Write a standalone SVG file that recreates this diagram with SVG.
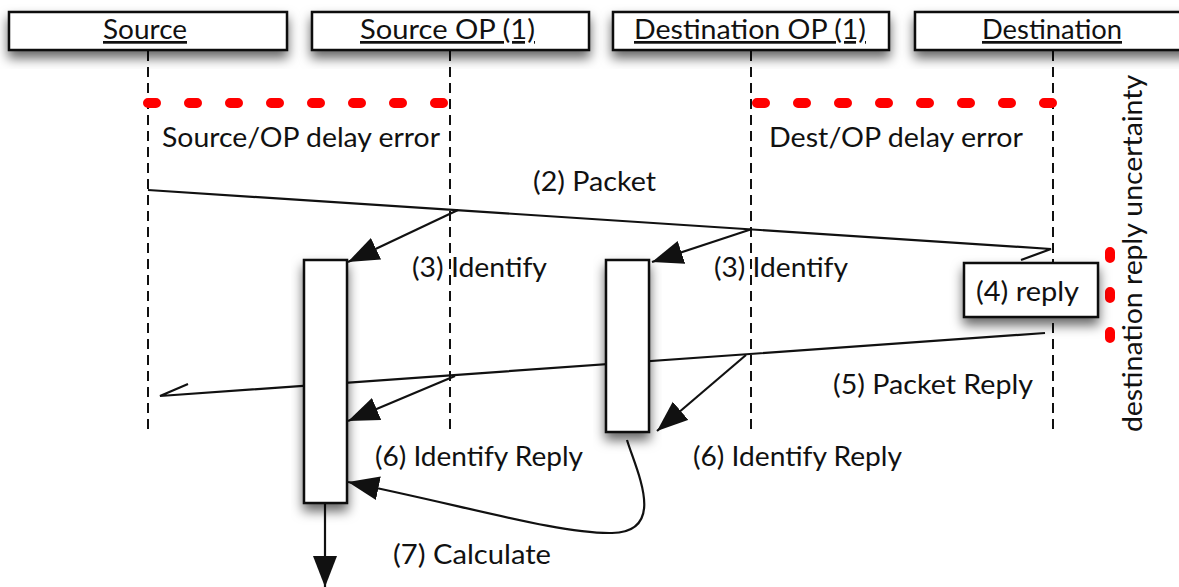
<svg xmlns="http://www.w3.org/2000/svg" width="1179" height="587" viewBox="0 0 1179 587">
<style>
text{font-family:Lato,"Open Sans","Liberation Sans",sans-serif;font-size:27px;fill:#111}
.hdr{text-decoration:underline}
.box{fill:#fff;stroke:#111;stroke-width:2.5}
.life{stroke:#111;stroke-width:2;stroke-dasharray:10 6;fill:none}
.red{stroke:#f00;stroke-width:10;stroke-linecap:round;fill:none}
.ln{stroke:#111;stroke-width:2.2;fill:none}
.arr{stroke:#111;stroke-width:2.2;fill:none;marker-end:url(#ah)}
</style>
<defs>
<filter id="sh" x="-30%" y="-30%" width="160%" height="180%">
<feDropShadow dx="0" dy="7" stdDeviation="6" flood-color="#000" flood-opacity="0.6"/>
</filter>
<marker id="ah" markerUnits="userSpaceOnUse" markerWidth="34" markerHeight="26" refX="31" refY="12" orient="auto">
<path d="M0,0 L31,12 L0,24 Z" fill="#111"/>
</marker>
</defs>
<g id="lifelines">
<line class="life" x1="148" y1="51" x2="148" y2="430"/>
<line class="life" x1="450" y1="51" x2="450" y2="430"/>
<line class="life" x1="751" y1="51" x2="751" y2="432"/>
<line class="life" x1="1053" y1="51" x2="1053" y2="432"/>
</g>
<g id="node-source"><rect class="box" x="9" y="12" width="278" height="38" filter="url(#sh)"/><text class="hdr" x="103" y="39" textLength="84" lengthAdjust="spacingAndGlyphs">Source</text></g>
<g id="node-source-op"><rect class="box" x="312" y="12" width="277" height="38" filter="url(#sh)"/><text class="hdr" x="360" y="39" textLength="175" lengthAdjust="spacingAndGlyphs">Source OP (1)</text></g>
<g id="node-dest-op"><rect class="box" x="613" y="12" width="276" height="38" filter="url(#sh)"/><text class="hdr" x="634" y="39" textLength="232" lengthAdjust="spacingAndGlyphs">Destination OP (1)</text></g>
<g id="node-dest"><rect class="box" x="915" y="12" width="276" height="38" filter="url(#sh)"/><text class="hdr" x="982" y="39" textLength="140" lengthAdjust="spacingAndGlyphs">Destination</text></g>
<g id="errors">
<line class="red" x1="148" y1="103" x2="444" y2="103" stroke-dasharray="8 33"/>
<line class="red" x1="757" y1="103" x2="1053" y2="103" stroke-dasharray="8 33"/>
<line class="red" x1="1110" y1="252" x2="1110" y2="340" stroke-dasharray="6 34"/>
<text x="162" y="147" textLength="278" lengthAdjust="spacingAndGlyphs">Source/OP delay error</text>
<text x="769" y="147" textLength="254" lengthAdjust="spacingAndGlyphs">Dest/OP delay error</text>
<text transform="translate(1142,432) rotate(-90)" textLength="357" lengthAdjust="spacingAndGlyphs">destination reply uncertainty</text>
</g>
<g id="connectors">
<path class="ln" d="M148,190 L1051,249 L1021,260"/>
<path class="ln" d="M1045,333 L160,396 L188,384"/>
<line class="arr" x1="458" y1="210" x2="348" y2="262"/>
<line class="arr" x1="752" y1="229" x2="652" y2="262"/>
<line class="arr" x1="455" y1="376" x2="348" y2="421"/>
<line class="arr" x1="746" y1="355" x2="657" y2="431"/>
<path class="arr" d="M627,440 C636,470 668,532 612,533 C560,534 470,507 348,482"/>
<line class="arr" x1="325" y1="503" x2="325" y2="587"/>
</g>
<g id="node-act1"><rect class="box" x="304" y="260" width="43" height="243" filter="url(#sh)"/></g>
<g id="node-act2"><rect class="box" x="606" y="260" width="43" height="172" filter="url(#sh)"/></g>
<g id="node-reply"><rect class="box" x="964" y="263" width="134" height="54" filter="url(#sh)"/><text x="976" y="301" textLength="103" lengthAdjust="spacingAndGlyphs">(4) reply</text></g>
<g id="labels">
<text x="533" y="191" textLength="123" lengthAdjust="spacingAndGlyphs">(2) Packet</text>
<text x="412" y="277" textLength="135" lengthAdjust="spacingAndGlyphs">(3) Identify</text>
<text x="714" y="277" textLength="134" lengthAdjust="spacingAndGlyphs">(3) Identify</text>
<text x="833" y="394" textLength="200" lengthAdjust="spacingAndGlyphs">(5) Packet Reply</text>
<text x="375" y="466" textLength="208" lengthAdjust="spacingAndGlyphs">(6) Identify Reply</text>
<text x="693" y="466" textLength="209" lengthAdjust="spacingAndGlyphs">(6) Identify Reply</text>
<text x="393" y="564" textLength="158" lengthAdjust="spacingAndGlyphs">(7) Calculate</text>
</g>
</svg>
